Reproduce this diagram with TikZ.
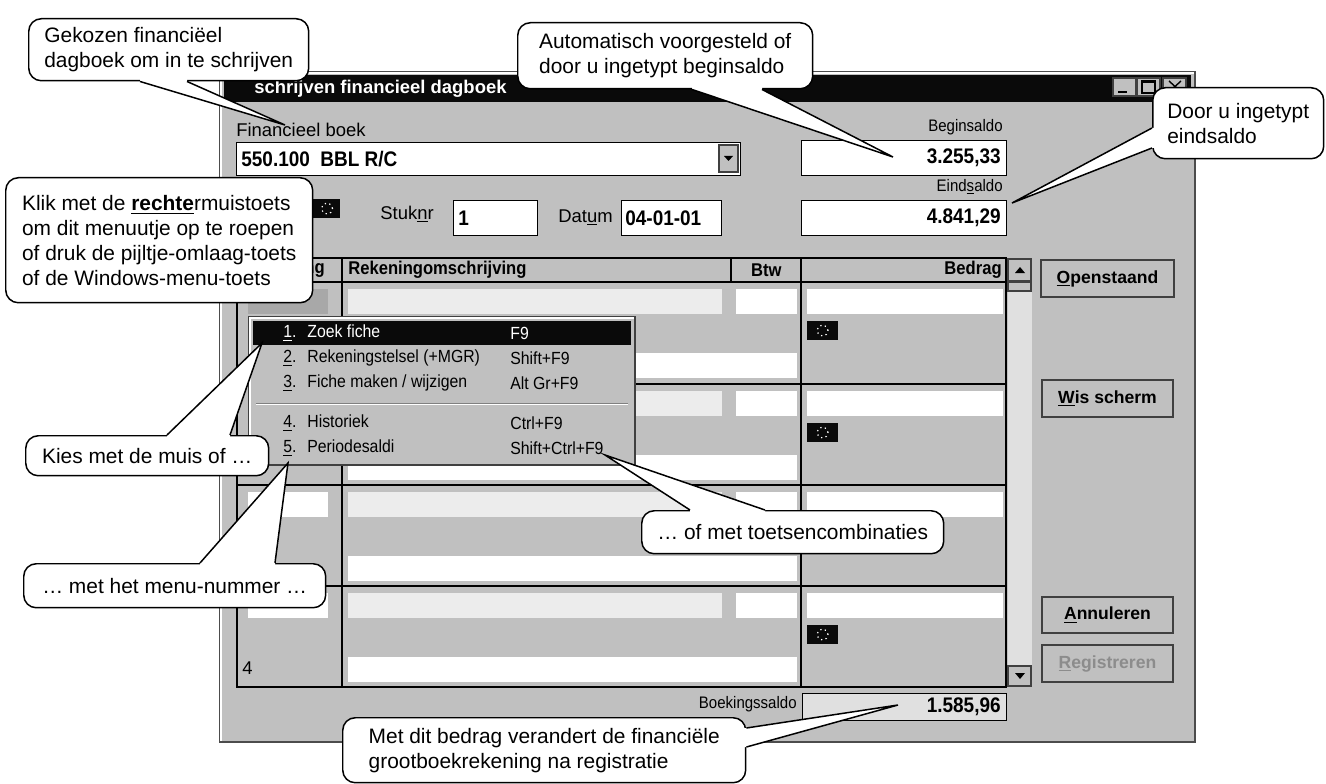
\documentclass[tikz,border=0pt]{standalone}
\usepackage{fontspec}
\setmainfont{Liberation Sans}
\newfontfamily\narrowfont{Liberation Sans}[FakeStretch=0.9]
\usetikzlibrary{calc}

\definecolor{winbg}{HTML}{C0C0C0}
\definecolor{winlt}{HTML}{ECECEC}
\definecolor{winsel}{HTML}{A8A8A8}
\definecolor{titlebk}{HTML}{0A0A0A}
\definecolor{scrl}{HTML}{E0E0E0}

\tikzstyle{bubble}   = [draw=black, fill=white, line width=0.85pt, rounded corners=2.5mm, inner sep=0pt, align=left, anchor=north west, font=\fontsize{11.9}{14.2}\selectfont]
\tikzstyle{tail}     = [draw=black, line width=0.85pt]
\tikzstyle{field}    = [draw=black, fill=white, line width=0.5pt]
\tikzstyle{button}   = [draw=black!75, fill=winbg, line width=0.6pt]
\tikzstyle{lbl}      = [inner sep=0pt, font=\fontsize{10.5}{12}\selectfont]
\tikzstyle{smalllbl} = [inner sep=0pt, font=\narrowfont\fontsize{9.5}{11}\selectfont]
\tikzstyle{val}      = [inner sep=0pt, font=\narrowfont\bfseries\fontsize{12}{14}\selectfont]
\tikzstyle{hdr}      = [inner sep=0pt, font=\narrowfont\bfseries\fontsize{10.5}{12}\selectfont]
\tikzstyle{menu}     = [inner sep=0pt, anchor=west, font=\narrowfont\fontsize{10}{11}\selectfont]
\tikzstyle{btntext}  = [inner sep=0pt, font=\bfseries\fontsize{10}{12}\selectfont]
\tikzstyle{titletext}= [inner sep=0pt, text=white, font=\bfseries\fontsize{10.5}{12}\selectfont]
\tikzstyle{dots}     = [white, dotted, line width=0.7pt]

\begin{document}
\begin{tikzpicture}[x=0.02cm, y=-0.02cm]
  \useasboundingbox (0,0) rectangle (1326,784);
  \fill[white] (0,0) rectangle (1326,784);

  % venster
  \draw[fill=winbg, draw=black!70, line width=0.6pt] (220,72) rectangle (1195,742);
  \draw[white, line width=0.6pt] (221,741) -- (221,73) -- (1194,73);
  \fill[titlebk] (224,75) rectangle (1191,102);
  \node[titletext, anchor=west] (titel) at (254,89) {schrijven financieel dagboek};
  \foreach \x in {1113,1137,1163}
    \draw[button] (\x,78) rectangle ++(23,18);
  \draw[line width=1.2pt] (1118,92) -- (1127,92);
  \draw[line width=0.6pt] (1142,81) rectangle (1155,93);
  \draw[line width=1.2pt] (1142,81.5) -- (1155,81.5);
  \draw[line width=0.8pt] (1169,81) -- (1181,92) (1181,81) -- (1169,92);

  \node[lbl, anchor=west] (boeklbl) at (236,130) {Financieel boek};
  \draw[field] (236,142) rectangle (740,175);
  \node[val, anchor=west] (boek) at (241,159) {550.100\enspace BBL R/C};
  \draw[button] (719,145) rectangle (738,172);
  \fill (724,156) -- (733,156) -- (728.5,161) -- cycle;

  \node[smalllbl, anchor=east] (beginlbl) at (1003,127) {Beginsaldo};
  \draw[field] (801,140) rectangle (1006,175);
  \node[val, anchor=east] (begin) at (1001,158) {3.255,33};
  \node[smalllbl, anchor=east] (eindlbl) at (1003,187) {Eind\underline{s}aldo};
  \draw[field] (801,200) rectangle (1006,235);
  \node[val, anchor=east] (eind) at (1001,218) {4.841,29};

  \fill[titlebk] (301,199) rectangle (340,218);
  \draw[dots] (327,208.5) circle [radius=0.11cm];
  \node[lbl, anchor=base west] (stuklbl) at (380,219) {Stuk\underline{n}r};
  \draw[field] (453,200) rectangle (537,235);
  \node[val, anchor=west] (stuk) at (458,218) {1};
  \node[lbl, anchor=base west] (datumlbl) at (558,222) {Dat\underline{u}m};
  \draw[field] (621,200) rectangle (721,235);
  \node[val, anchor=west] (datum) at (625,218) {04-01-01};

  % tabel
  \foreach \t in {282,384,485,586} {
    \fill[white] (248,\t+7) rectangle (328,\t+32);
    \fill[winlt] (348,\t+7) rectangle (722,\t+32);
    \fill[white] (736,\t+7) rectangle (797,\t+32);
    \fill[white] (807,\t+7) rectangle (1003,\t+32);
    \fill[titlebk] (807,\t+39) rectangle (838,\t+58);
    \draw[dots] (822.5,\t+48.5) circle [radius=0.11cm];
    \fill[white] (348,\t+71) rectangle (797,\t+96);
  }
  \fill[winsel] (248,289) rectangle (328,314);
  \draw[line width=0.7pt] (237,258) rectangle (1006,687);
  \foreach \t in {282,384,485,586}
    \draw[line width=0.7pt] (237,\t) -- (1006,\t);
  \draw[line width=0.7pt] (342,258) -- (342,687) (801,258) -- (801,687) (731,258) -- (731,282);
  \node[hdr, anchor=east] (kol1) at (325,270) {ng};
  \node[hdr, anchor=west] (kol2) at (348,270) {Rekeningomschrijving};
  \node[hdr, anchor=east] (kol3) at (782,270) {Btw};
  \node[hdr, anchor=east] (kol4) at (1002,270) {Bedrag};
  \node[lbl, anchor=west] (rij) at (242,668) {4};

  \fill[scrl] (1008,258) rectangle (1032,687);
  \draw[button] (1008,259) rectangle (1031,281);
  \fill (1015,273) -- (1025,273) -- (1020,267) -- cycle;
  \draw[button] (1008,282) rectangle (1031,291);
  \draw[button] (1008,666) rectangle (1031,686);
  \fill (1015,673) -- (1025,673) -- (1020,679) -- cycle;

  \node[smalllbl, anchor=east] (saldolbl) at (797,704) {Boekingssaldo};
  \draw[field, fill=scrl] (802,693) rectangle (1006,720);
  \node[val, anchor=east] (saldo) at (1001,707) {1.585,96};

  % knoppen
  \draw[button] (1041,260) rectangle (1174,297);
  \node[btntext] (open) at (1107.5,278.5) {\underline{O}penstaand};
  \draw[button] (1042,380) rectangle (1173,417);
  \node[btntext] (wis) at (1107.5,398.5) {\underline{W}is scherm};
  \draw[button] (1042,597) rectangle (1173,633);
  \node[btntext] (annul) at (1107.5,615) {\underline{A}nnuleren};
  \draw[button] (1042,645) rectangle (1173,682);
  \node[btntext, text=black!45] (regis) at (1107.5,663.5) {\underline{R}egistreren};

  % menu
  \draw[button] (249,317) rectangle (635,465);
  \draw[white, line width=0.6pt] (250,464) -- (250,318) -- (634,318);
  \fill[titlebk] (253,321) rectangle (631,345);
  \foreach \y/\nr/\item/\toets/\kl in {333/1/Zoek fiche/F9/white,
      358/2/Rekeningstelsel (+MGR)/Shift+F9/black,
      383/3/{Fiche maken / wijzigen}/Alt Gr+F9/black,
      423/4/Historiek/Ctrl+F9/black,
      448/5/Periodesaldi/Shift+Ctrl+F9/black} {
    \node[menu, text=\kl] (item\nr) at (283,\y) {\makebox[0.48cm][l]{\underline{\nr}.}\item};
    \node[menu, text=\kl] (toets\nr) at (510,\y) {\toets};
  }
  \draw[black!50] (256,403) -- (628,403);
  \draw[white] (256,404.5) -- (628,404.5);

  % wolkjes
  \node[bubble, minimum width=5.6cm, minimum height=1.24cm] (gekozen) at (28,18) {Gekozen financiëel\\dagboek om in te schrijven};
  \node[bubble, minimum width=5.9cm, minimum height=1.32cm] (auto) at (517,22) {Automatisch voorgesteld of\\door u ingetypt beginsaldo};
  \node[bubble, minimum width=3.42cm, minimum height=1.42cm] (door) at (1152,87) {Door u ingetypt\\eindsaldo};
  \node[bubble, minimum width=6.14cm, minimum height=2.5cm] (klik) at (5,177) {Klik met de \textbf{\underline{rechte}}rmuistoets\\om dit menuutje op te roepen\\of druk de pijltje-omlaag-toets\\of de Windows-menu-toets};
  \node[bubble, minimum width=4.86cm, minimum height=0.8cm] (kies) at (25,435) {Kies met de muis of …};
  \node[bubble, minimum width=6.04cm, minimum height=0.88cm] (menunr) at (23,563) {… met het menu-nummer …};
  \node[bubble, minimum width=6.04cm, minimum height=0.86cm] (combi) at (641,510) {… of met toetsencombinaties};
  \node[bubble, minimum width=8.06cm, minimum height=1.3cm] (bedrag) at (342,717) {Met dit bedrag verandert de financiële\\grootboekrekening na registratie};

  \coordinate (tipgek) at (285,125);
  \coordinate (tipbegin) at (893,157);
  \coordinate (tipeind) at (1012,203);
  \coordinate (tipkies) at (262,343);
  \coordinate (tipnr) at (288,463);
  \coordinate (tipcombi) at (605,455);
  \coordinate (tipsaldo) at (898,705);
  \foreach \nd/\pa/\pb/\dv/\tp in {gekozen.south west/{112,0}/{159,0}/{0,-3}/tipgek,
      auto.south west/{175,0}/{245,0}/{0,-3}/tipbegin,
      door.north west/{0,41}/{0,61}/{3,0}/tipeind,
      kies.north west/{142,0}/{205,0}/{0,3}/tipkies,
      menunr.north west/{177,0}/{252,0}/{0,3}/tipnr,
      combi.north west/{49,0}/{124,0}/{0,3}/tipcombi,
      bedrag.north east/{0,11}/{0,30}/{-3,0}/tipsaldo} {
    \fill[white] ($(\nd)+(\pa)+(\dv)$) -- ($(\nd)+(\pa)$) -- (\tp) -- ($(\nd)+(\pb)$) -- ($(\nd)+(\pb)+(\dv)$) -- cycle;
    \draw[tail] ($(\nd)+(\pa)$) -- (\tp) -- ($(\nd)+(\pb)$);
  }
\end{tikzpicture}
\end{document}
